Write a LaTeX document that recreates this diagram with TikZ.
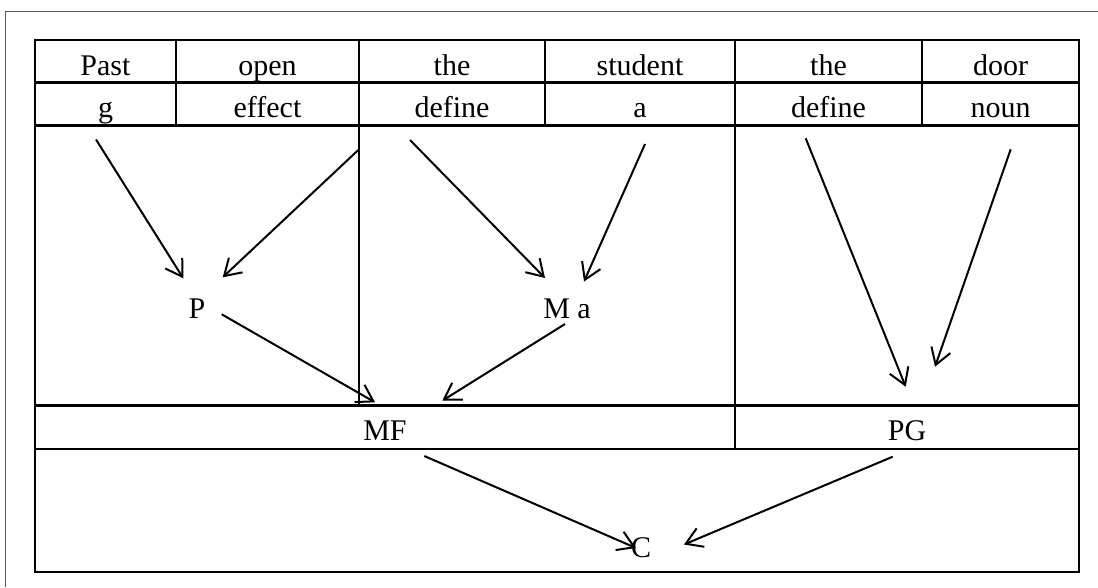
\documentclass[tikz,border=0pt]{standalone}
\usepackage{fontspec}
\setmainfont{Liberation Serif}
\usetikzlibrary{arrows.meta}
\begin{document}
\begin{tikzpicture}[x=1pt,y=-1pt,
  rule/.style={line width=2.6pt},
  lbl/.style={anchor=base, inner sep=0pt, font=\fontsize{30}{35}\selectfont},
  arr/.style={line width=2pt, -{Straight Barb[length=16pt,width=20pt,line width=2pt]}}]
\useasboundingbox (0,0) rectangle (1098,587);

% page frame
\draw[black!65, line width=1.6pt] (5.5,587) -- (5.5,11.5) -- (1098,11.5);

% table grid
\draw[rule] (35,40) rectangle (1079,572);
\draw[rule] (35,82.5) -- (1079,82.5);
\draw[rule] (35,125.5) -- (1079,125.5);
\draw[rule] (35,405.5) -- (1079,405.5);
\draw[rule] (35,449) -- (1079,449);
\draw[rule] (176,40) -- (176,125.5);
\draw[rule] (359,40) -- (359,405.5);
\draw[rule] (545,40) -- (545,125.5);
\draw[rule] (735,40) -- (735,449);
\draw[rule] (922,40) -- (922,125.5);

% first row
\node[lbl] (past)    at (105.5,75) {Past};
\node[lbl] (open)    at (267.5,75) {open};
\node[lbl] (the1)    at (452,75)   {the};
\node[lbl] (student) at (640,75)   {student};
\node[lbl] (the2)    at (828.5,75) {the};
\node[lbl] (door)    at (1000.5,75){door};

% second row
\node[lbl] (g)       at (105.5,117) {g};
\node[lbl] (effect)  at (267.5,117) {effect};
\node[lbl] (def1)    at (452,117)   {define};
\node[lbl] (a)       at (640,117)   {a};
\node[lbl] (def2)    at (828.5,117) {define};
\node[lbl] (noun)    at (1000.5,117){noun};

% intermediate and result nodes
\node[lbl] (P)  at (197,318) {P};
\node[lbl] (Ma) at (567,318) {M a};
\node[lbl] (MF) at (385,440) {MF};
\node[lbl] (PG) at (907,440) {PG};
\node[lbl] (C)  at (641,557) {C};

% connector end points
\coordinate (gS)    at (96,139.5);
\coordinate (gE)    at (183.3,278.3);
\coordinate (vS)    at (358.3,150);
\coordinate (vE)    at (222.7,277.3);
\coordinate (d1S)   at (410,140);
\coordinate (d1E)   at (545,278);
\coordinate (aS)    at (645,144);
\coordinate (aE)    at (584,281.5);
\coordinate (d2S)   at (805.7,138.3);
\coordinate (d2E)   at (905.7,386.7);
\coordinate (nS)    at (1010.7,149.3);
\coordinate (nE)    at (935,366.7);
\coordinate (PS)    at (221.7,314.3);
\coordinate (PE)    at (375,402.3);
\coordinate (MaS)   at (565,324);
\coordinate (MaE)   at (442.3,400.7);
\coordinate (MFS)   at (424.3,456);
\coordinate (MFE)   at (636,548);
\coordinate (PGS)   at (892.7,456.7);
\coordinate (PGE)   at (684,544.5);

% arrows
\draw[arr] (gS) -- (gE);
\draw[arr] (vS) -- (vE);
\draw[arr] (d1S) -- (d1E);
\draw[arr] (aS) -- (aE);
\draw[arr] (d2S) -- (d2E);
\draw[arr] (nS) -- (nE);
\draw[arr] (PS) -- (PE);
\draw[arr] (MaS) -- (MaE);
\draw[arr] (MFS) -- (MFE);
\draw[arr] (PGS) -- (PGE);
\end{tikzpicture}
\end{document}
